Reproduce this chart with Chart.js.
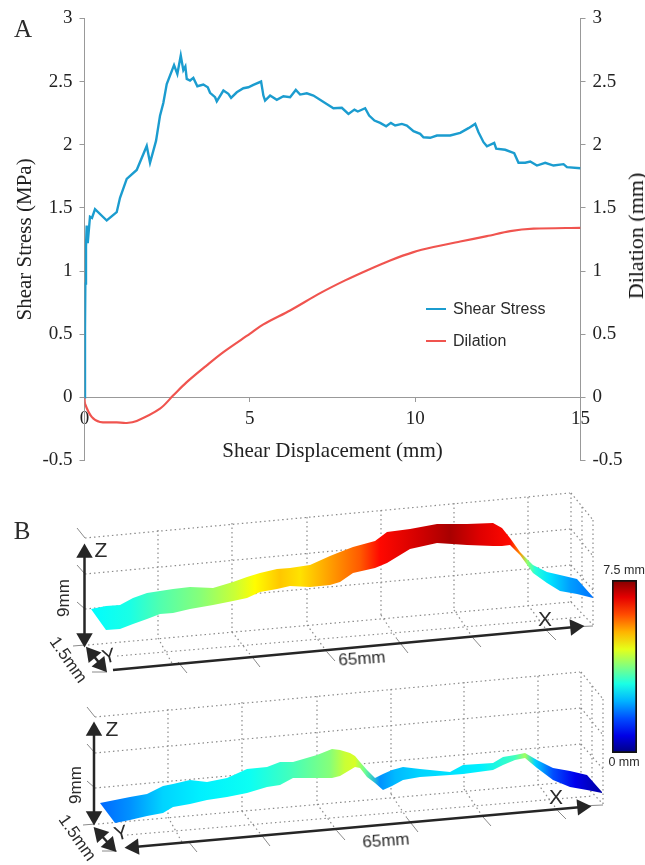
<!DOCTYPE html>
<html>
<head>
<meta charset="utf-8">
<title>Shear stress and dilation</title>
<script src="https://cdn.jsdelivr.net/npm/chart.js@4"></script>
<style>
  html, body { margin: 0; padding: 0; background: #fff; }
  #page { position: relative; width: 645px; height: 865px; overflow: hidden; }
  canvas { position: absolute; }
  .label { position: absolute; white-space: nowrap; color: #2b2b2b; font-family: "Liberation Sans", sans-serif; transform: translate(-50%, -50%); }
  .panel { font-family: "Liberation Serif", serif; font-size: 25px; }
  .legend { transform: translate(0, -50%); font-size: 16px; }
  .swatch { position: absolute; height: 2px; width: 20px; }
</style>
</head>
<body>
<div id="page">
  <canvas id="chartA" width="645" height="490" style="left:0;top:0"></canvas>
  <canvas id="chartB" width="645" height="375" style="left:0;top:490px"></canvas>
  <canvas id="colorbar" width="29" height="177" style="left:610px;top:578px"></canvas>

  <div class="label panel" style="left:23px;top:29px">A</div>
  <div class="label panel" style="left:22px;top:531px">B</div>
  <div class="label" style="left:636px;top:236px;font-family:'Liberation Serif',serif;font-size:22px;color:#111;transform:translate(-50%,-50%) rotate(-90deg)">Dilation (mm)</div>

  <div class="swatch" style="left:426px;top:308px;background:#1b9ccf"></div>
  <div class="label legend" style="left:453px;top:309px">Shear Stress</div>
  <div class="swatch" style="left:426px;top:340px;background:#f0544f"></div>
  <div class="label legend" style="left:453px;top:341px">Dilation</div>

  <div class="label" style="left:101px;top:550px;font-size:21px">Z</div>
  <div class="label" style="left:64px;top:598px;font-size:17px;transform:translate(-50%,-50%) rotate(-90deg)">9mm</div>
  <div class="label" style="left:68px;top:660px;font-size:17px;transform:translate(-50%,-50%) rotate(55deg)">1.5mm</div>
  <div class="label" style="left:109px;top:656px;font-size:20px;transform:translate(-50%,-50%) rotate(-15deg)">Y</div>
  <div class="label" style="left:545px;top:619px;font-size:21px">X</div>
  <div class="label" style="left:362px;top:659px;font-size:17px;transform:translate(-50%,-50%) rotate(-4deg)">65mm</div>

  <div class="label" style="left:112px;top:729px;font-size:21px">Z</div>
  <div class="label" style="left:76px;top:785px;font-size:17px;transform:translate(-50%,-50%) rotate(-90deg)">9mm</div>
  <div class="label" style="left:77px;top:838px;font-size:17px;transform:translate(-50%,-50%) rotate(55deg)">1.5mm</div>
  <div class="label" style="left:121px;top:833px;font-size:20px;transform:translate(-50%,-50%) rotate(-15deg)">Y</div>
  <div class="label" style="left:556px;top:797px;font-size:21px">X</div>
  <div class="label" style="left:386px;top:841px;font-size:17px;transform:translate(-50%,-50%) rotate(-4deg)">65mm</div>

  <div class="label" style="left:624px;top:570px;font-size:12.5px">7.5 mm</div>
  <div class="label" style="left:624px;top:762px;font-size:12.5px">0 mm</div>
</div>

<script>
// panel A
const shearX = [0, 0.015, 0.025, 0.045, 0.066, 0.097, 0.166, 0.227, 0.318, 0.672, 0.974, 1.074, 1.277, 1.579, 1.882, 1.982, 2.163, 2.284, 2.384, 2.487, 2.708, 2.808, 2.911, 2.989, 3.05, 3.092, 3.192, 3.292, 3.413, 3.594, 3.728, 3.797, 3.949, 4.0, 4.2, 4.351, 4.433, 4.605, 4.805, 4.956, 5.107, 5.34, 5.41, 5.461, 5.613, 5.815, 6.015, 6.218, 6.39, 6.52, 6.723, 6.923, 7.277, 7.528, 7.782, 7.982, 8.163, 8.266, 8.487, 8.608, 8.769, 8.941, 9.123, 9.265, 9.395, 9.598, 9.749, 9.949, 10.151, 10.251, 10.454, 10.657, 11.059, 11.362, 11.613, 11.815, 11.915, 12.067, 12.17, 12.39, 12.451, 12.723, 12.995, 13.125, 13.328, 13.48, 13.682, 13.933, 14.184, 14.487, 14.59, 15];
const shearY = [0, 0.55, 0.9, 1.19, 1.36, 1.22, 1.43, 1.42, 1.49, 1.40, 1.466, 1.58, 1.73, 1.80, 1.99, 1.857, 2.03, 2.23, 2.33, 2.48, 2.63, 2.56, 2.706, 2.59, 2.62, 2.521, 2.508, 2.529, 2.463, 2.476, 2.455, 2.411, 2.376, 2.344, 2.429, 2.403, 2.371, 2.415, 2.447, 2.455, 2.474, 2.5, 2.389, 2.35, 2.389, 2.355, 2.384, 2.376, 2.434, 2.397, 2.407, 2.389, 2.331, 2.289, 2.292, 2.244, 2.278, 2.263, 2.289, 2.231, 2.191, 2.173, 2.146, 2.173, 2.152, 2.165, 2.152, 2.107, 2.086, 2.059, 2.055, 2.073, 2.073, 2.094, 2.131, 2.165, 2.099, 2.02, 1.988, 2.015, 1.968, 1.96, 1.933, 1.857, 1.857, 1.867, 1.835, 1.857, 1.835, 1.846, 1.822, 1.814];
const dilationX = [0, 0.015, 0.218, 0.469, 0.974, 1.277, 1.579, 2.284, 2.687, 3.092, 3.697, 4.2, 5.008, 5.41, 6.218, 7.126, 7.882, 8.538, 9.244, 9.949, 10.554, 11.362, 12.17, 12.874, 13.58, 15];
const dilationY = [0, -0.05, -0.155, -0.195, -0.198, -0.203, -0.187, -0.09, 0.016, 0.12, 0.253, 0.358, 0.504, 0.578, 0.688, 0.825, 0.926, 1.005, 1.084, 1.15, 1.19, 1.234, 1.276, 1.316, 1.335, 1.342];

// panel B, ribbons in picture units
const ribbon1X = [91, 106, 120, 133, 147, 160, 173, 190, 213, 233, 247, 260, 277, 290, 310, 330, 340, 353, 375, 387, 410, 437, 467, 493, 502, 510, 520, 533, 547, 560, 577, 593];
const ribbon1Top = [609, 606, 605, 598, 593, 591, 589, 587, 588, 582, 577, 573, 569, 568, 565, 556, 552, 547, 541, 532, 529, 524, 524, 523, 528, 538, 552, 565, 572, 575, 579, 597];
const ribbon1Bottom = [609, 630, 629, 624, 619, 614, 613, 609, 605, 601, 598, 592, 589, 586, 587, 585, 582, 573, 568, 563, 549, 543, 545, 546, 546, 545, 555, 573, 583, 591, 594, 598];
const ribbon1ColorX = [91, 130, 160, 200, 235, 255, 280, 300, 330, 360, 380, 420, 450, 480, 510, 520, 527, 535, 550, 570, 592];
const ribbon1Height = [2.8, 3.0, 3.4, 3.8, 4.3, 4.7, 5.1, 4.9, 5.4, 5.9, 6.5, 6.9, 7.2, 6.8, 6.5, 5.5, 3.9, 3.1, 2.6, 2.1, 1.8];

const ribbon2X = [100, 115, 130, 147, 163, 173, 190, 207, 227, 247, 267, 280, 293, 317, 332, 340, 350, 355, 360, 367, 375, 383, 392, 403, 420, 450, 463, 493, 503, 515, 525, 537, 553, 570, 587, 602];
const ribbon2Top = [803, 800, 797, 794, 786, 784, 780, 782, 778, 769, 767, 762, 762, 755, 749, 750, 753, 756, 762, 770, 778, 774, 770, 767, 769, 772, 765, 763, 757, 755, 753, 760, 768, 771, 775, 792];
const ribbon2Bottom = [803, 823, 820, 816, 813, 807, 804, 800, 797, 793, 787, 785, 778, 778, 778, 776, 770, 767, 768, 777, 783, 790, 786, 780, 777, 775, 774, 770, 765, 760, 758, 768, 780, 787, 790, 793];
const ribbon2ColorX = [100, 130, 163, 200, 250, 290, 330, 345, 355, 365, 380, 395, 420, 480, 515, 525, 535, 553, 575, 600];
const ribbon2Height = [1.7, 2.0, 2.5, 2.7, 2.9, 3.3, 3.8, 4.3, 4.4, 3.6, 2.0, 2.3, 2.5, 2.7, 3.3, 4.0, 2.5, 1.5, 0.8, 0.3];

// box lines: x1, y1, x2, y2. second box is the same one shifted
const boxDotted = [[85, 538, 570, 493], [85, 574, 571, 529], [85, 609, 571, 565], [88, 645, 571, 602], [117, 656, 583, 617], [158, 530, 158, 638], [232, 523, 232, 632], [307, 517, 307, 625], [381, 510, 381, 615], [454, 503, 454, 610], [528, 497, 528, 605], [571, 493, 571, 602], [158, 638, 173, 665], [232, 632, 253, 658], [307, 625, 327, 652], [381, 615, 397, 639], [454, 610, 473, 638], [528, 605, 548, 632], [571, 493, 593, 520], [571, 529, 593, 556], [571, 565, 593, 590], [571, 602, 593, 625], [593, 520, 593, 625], [582, 507, 582, 610]];
const boxTicks = [[77, 528, 85, 538], [77, 565, 85, 574], [77, 602, 85, 609], [73, 646, 85, 645], [92, 672, 107, 672], [178, 662, 187, 673], [253, 658, 260, 667], [327, 652, 335, 661], [397, 639, 408, 653], [473, 638, 481, 647], [548, 632, 556, 640], [570, 627, 593, 626]];
const boxShift = [10, 179];

// x1, y1, x2, y2, head at start, head at end
const arrows1 = [[84.5, 553, 84.5, 638, 1, 1], [92, 654, 101, 665, 1, 1], [113, 670, 575, 627, 0, 1]];
const arrows2 = [[94, 731, 94, 816, 1, 1], [100, 834, 110, 845, 1, 1], [134, 847, 582, 807, 1, 1]];

const colorbarStops = [0, 0.75, 1.5, 2.25, 3, 3.75, 4.5, 5.25, 6, 6.75, 7.5];

const colorBlue = '#1b9ccf';
const colorRed = '#f0544f';
const axisGray = '#999999';
const inkDark = '#262626';
const serif = '"Liberation Serif", serif';

function zip(xs, ys) {
  return xs.map(function(x, i) { return { x: x, y: ys[i] }; });
}

// jet colour for a height in mm
function jet(height) {
  const v = height / 7.5;
  const part = function(c) { return Math.round(255 * Math.max(0, Math.min(1, 1.5 - Math.abs(4 * v - c)))); };
  return 'rgb(' + part(3) + ',' + part(2) + ',' + part(1) + ')';
}

function axisOptions(position) {
  return {
    type: 'linear',
    position: position,
    min: -0.5,
    max: 3,
    ticks: {
      stepSize: 0.5,
      color: '#222',
      padding: 7,
      font: { family: serif, size: 19 },
      callback: function(v) { return String(v); },
    },
    grid: { drawOnChartArea: false, tickLength: 5, color: axisGray },
    border: { color: axisGray },
  };
}

const leftAxis = axisOptions('left');
leftAxis.title = {
  display: true,
  text: 'Shear Stress (MPa)',
  color: '#222',
  padding: { top: 13, bottom: 0 },
  font: { family: serif, size: 21 },
};
leftAxis.afterFit = function(scale) { scale.width = 84.5; };
const rightAxis = axisOptions('right');
rightAxis.afterFit = function(scale) { scale.width = 64.5; };

new Chart(document.querySelector('#chartA'), {
  type: 'scatter',
  data: {
    datasets: [{
      label: 'Shear Stress',
      data: zip(shearX, shearY),
      showLine: true,
      borderColor: colorBlue,
      borderWidth: 2.4,
      pointRadius: 0,
      yAxisID: 'y',
    }, {
      label: 'Dilation',
      data: zip(dilationX, dilationY),
      showLine: true,
      borderColor: colorRed,
      borderWidth: 2.2,
      tension: 0.3,
      pointRadius: 0,
      yAxisID: 'y2',
    }]
  },
  options: {
    responsive: false,
    animation: false,
    layout: { padding: { top: 17, bottom: 29.5 }, autoPadding: false },
    plugins: { legend: { display: false }, tooltip: { enabled: false } },
    scales: {
      x: {
        type: 'linear',
        position: { y: 0 },
        min: 0,
        max: 15,
        ticks: {
          stepSize: 5,
          color: '#222',
          padding: 6,
          maxRotation: 0,
          font: { family: serif, size: 19 },
        },
        grid: { drawOnChartArea: false, tickLength: 4, color: axisGray },
        border: { color: axisGray },
        title: {
          display: true,
          text: 'Shear Displacement (mm)',
          color: '#222',
          padding: { top: 3, bottom: 0 },
          font: { family: serif, size: 21 },
        },
      },
      y: leftAxis,
      y2: rightAxis,
    }
  }
});

function lineDataset(seg, shift, color, width, dash) {
  return {
    data: [{ x: seg[0] + shift[0], y: seg[1] + shift[1] }, { x: seg[2] + shift[0], y: seg[3] + shift[1] }],
    showLine: true,
    borderColor: color,
    borderWidth: width,
    borderDash: dash,
    pointRadius: 0,
    order: 10,
  };
}

function ribbonDatasets(xs, top, bottom, colorX, heights) {
  const fillColor = function(ctx) {
    const chart = ctx.chart;
    const scale = chart.scales.x;
    const a = scale ? scale.getPixelForValue(colorX[0]) : NaN;
    const b = scale ? scale.getPixelForValue(colorX[colorX.length - 1]) : NaN;
    if (!isFinite(a) || !isFinite(b)) return '#888';
    const gradient = chart.ctx.createLinearGradient(a, 0, b, 0);
    colorX.forEach(function(x, i) {
      gradient.addColorStop((x - colorX[0]) / (colorX[colorX.length - 1] - colorX[0]), jet(heights[i]));
    });
    return gradient;
  };
  return [{
    data: zip(xs, top),
    showLine: true,
    borderWidth: 0,
    pointRadius: 0,
    fill: '+1',
    backgroundColor: fillColor,
    order: 5,
  }, {
    data: zip(xs, bottom),
    showLine: true,
    borderWidth: 0,
    pointRadius: 0,
    fill: false,
    order: 5,
  }];
}

function arrowDataset(a) {
  const ang = Math.atan2(a[2] - a[0], a[1] - a[3]) * 180 / Math.PI;
  return {
    data: [{ x: a[0], y: a[1] }, { x: a[2], y: a[3] }],
    showLine: true,
    borderColor: inkDark,
    borderWidth: 2.5,
    pointStyle: 'triangle',
    pointRadius: [a[4] ? 9.5 : 0, a[5] ? 9.5 : 0],
    pointRotation: [ang + 180, ang],
    pointBackgroundColor: inkDark,
    pointBorderWidth: 0,
    order: 1,
  };
}

let datasetsB = [];
[[0, 0], boxShift].forEach(function(shift) {
  boxDotted.forEach(function(seg) { datasetsB.push(lineDataset(seg, shift, '#8c8c8c', 1.2, [1.5, 3])); });
  boxTicks.forEach(function(seg) { datasetsB.push(lineDataset(seg, shift, '#8a8a8a', 1, [])); });
});
datasetsB = datasetsB.concat(ribbonDatasets(ribbon1X, ribbon1Top, ribbon1Bottom, ribbon1ColorX, ribbon1Height));
datasetsB = datasetsB.concat(ribbonDatasets(ribbon2X, ribbon2Top, ribbon2Bottom, ribbon2ColorX, ribbon2Height));
arrows1.concat(arrows2).forEach(function(a) { datasetsB.push(arrowDataset(a)); });

new Chart(document.querySelector('#chartB'), {
  type: 'scatter',
  data: { datasets: datasetsB },
  options: {
    responsive: false,
    animation: false,
    layout: { padding: 0, autoPadding: false },
    plugins: { legend: { display: false }, tooltip: { enabled: false } },
    scales: {
      x: { type: 'linear', display: false, min: 0, max: 645 },
      y: { type: 'linear', display: false, min: 490, max: 865, reverse: true },
    }
  }
});

new Chart(document.querySelector('#colorbar'), {
  type: 'bar',
  data: {
    labels: ['height'],
    datasets: [{
      data: [[0, 7.5]],
      barPercentage: 1,
      categoryPercentage: 1,
      borderColor: '#111',
      borderWidth: 2,
      borderSkipped: false,
      backgroundColor: function(ctx) {
        const scale = ctx.chart.scales.y;
        const a = scale ? scale.getPixelForValue(0) : NaN;
        const b = scale ? scale.getPixelForValue(7.5) : NaN;
        if (!isFinite(a) || !isFinite(b)) return '#888';
        const gradient = ctx.chart.ctx.createLinearGradient(0, a, 0, b);
        colorbarStops.forEach(function(h) { gradient.addColorStop(h / 7.5, jet(h)); });
        return gradient;
      },
    }]
  },
  options: {
    responsive: false,
    animation: false,
    layout: { padding: { left: 2, right: 2, top: 2, bottom: 2 }, autoPadding: false },
    plugins: { legend: { display: false }, tooltip: { enabled: false } },
    scales: {
      x: { display: false },
      y: { display: false, min: 0, max: 7.5 },
    }
  }
});
</script>
</body>
</html>
